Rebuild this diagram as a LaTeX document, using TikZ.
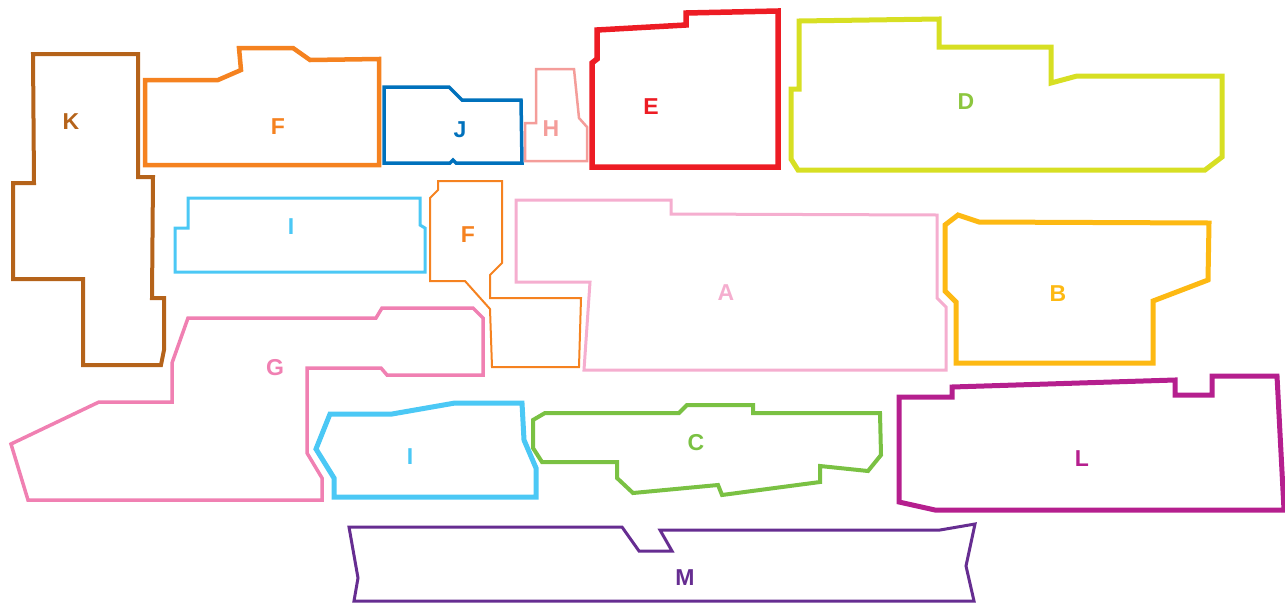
\documentclass[tikz,border=0pt]{standalone}
\usepackage{fontspec}
\setmainfont{Liberation Sans}
\usepackage{xcolor}
\definecolor{zoneK}{RGB}{181,99,26}
\definecolor{zoneF}{RGB}{245,130,32}
\definecolor{zoneJ}{RGB}{0,113,188}
\definecolor{zoneH}{RGB}{244,157,154}
\definecolor{zoneE}{RGB}{237,28,36}
\definecolor{zoneD}{RGB}{215,223,35}
\definecolor{labD}{RGB}{141,198,63}
\definecolor{zoneI}{RGB}{75,200,245}
\definecolor{zoneA}{RGB}{245,174,207}
\definecolor{zoneB}{RGB}{253,185,19}
\definecolor{zoneG}{RGB}{240,128,178}
\definecolor{zoneC}{RGB}{122,193,67}
\definecolor{zoneL}{RGB}{181,31,142}
\definecolor{zoneM}{RGB}{102,45,145}

\begin{document}
\begin{tikzpicture}[
    x=1pt, y=-1pt,
    zone/.style={line join=miter, line cap=butt},
    lbl/.style={font=\fontsize{23}{23}\selectfont\bfseries, inner sep=0pt},
]
\useasboundingbox (0,0) rectangle (1285,603);
% top row
\draw[zone, draw=zoneK, line width=4pt] (33,54) -- (138,54) -- (138,177) -- (153,177) -- (152,298) -- (164,298) -- (164,350) -- (161,365) -- (83,365) -- (83,279) -- (13,279) -- (13,183) -- (34,183) -- cycle;
\draw[zone, draw=zoneF, line width=4.5pt] (145,80) -- (218,80) -- (241,70) -- (239,48) -- (293,48) -- (310,60) -- (379,59) -- (379,165) -- (145,165) -- cycle;
\draw[zone, draw=zoneJ, line width=3.5pt] (384,87) -- (449,87) -- (462,100) -- (521,100) -- (522,163) -- (456,163) -- (453,160) -- (450,163) -- (384,163) -- cycle;
\draw[zone, draw=zoneH, line width=2.5pt] (536,69) -- (574,69) -- (579,118) -- (587,127) -- (587,161) -- (525,161) -- (525,123) -- (536,123) -- cycle;
\draw[zone, draw=zoneE, line width=5.5pt] (597,30) -- (686,25) -- (686,13) -- (778,11) -- (778,167) -- (592,167) -- (592,63) -- (597,59) -- cycle;
\draw[zone, draw=zoneD, line width=5pt] (799,21) -- (939,19) -- (939,47) -- (1051,47) -- (1051,83) -- (1077,76) -- (1222,76) -- (1222,157) -- (1205,170) -- (798,170) -- (791,159) -- (791,89) -- (799,89) -- cycle;
% middle row
\draw[zone, draw=zoneI, line width=3pt] (188,198) -- (420,198) -- (420,225) -- (425,228) -- (425,272) -- (175,272) -- (175,228) -- (188,228) -- cycle;
\draw[zone, draw=zoneF, line width=2pt] (438,181) -- (502,181) -- (502,263) -- (490,275) -- (490,298) -- (581,298) -- (579,367) -- (492,367) -- (490,309) -- (465,281) -- (430,281) -- (430,198) -- (438,190) -- cycle;
\draw[zone, draw=zoneA, line width=3pt] (516,200) -- (671,200) -- (671,214) -- (937,215) -- (937,298) -- (946,307) -- (946,370) -- (584,370) -- (590,282) -- (516,282) -- cycle;
\draw[zone, draw=zoneB, line width=5pt] (945,225) -- (958,215) -- (979,222) -- (1209,223) -- (1208,280) -- (1153,301) -- (1153,363) -- (956,363) -- (956,302) -- (945,291) -- cycle;
% bottom rows
\draw[zone, draw=zoneG, line width=3.5pt] (188,318) -- (376,318) -- (382,308) -- (473,308) -- (483,318) -- (483,375) -- (387,375) -- (381,368) -- (307,368) -- (307,453) -- (322,478) -- (322,500) -- (28,500) -- (11,444) -- (99,402) -- (172,402) -- (172,363) -- cycle;
\draw[zone, draw=zoneI, line width=5pt] (330,414) -- (392,414) -- (455,403) -- (522,403) -- (524,440) -- (536,468) -- (536,497) -- (334,497) -- (334,478) -- (316,449) -- cycle;
\draw[zone, draw=zoneC, line width=4pt] (545,413) -- (679,413) -- (687,405) -- (753,405) -- (753,413) -- (880,413) -- (881,455) -- (868,471) -- (820,466) -- (820,482) -- (722,495) -- (718,485) -- (633,493) -- (617,478) -- (617,462) -- (542,462) -- (533,448) -- (533,420) -- cycle;
\draw[zone, draw=zoneL, line width=5pt] (899,397) -- (952,397) -- (952,387) -- (1175,380) -- (1175,395) -- (1212,395) -- (1212,376) -- (1277,376) -- (1284,510) -- (935,510) -- (899,502) -- cycle;
\draw[zone, draw=zoneM, line width=3pt] (349,527) -- (622,527) -- (639,551) -- (672,551) -- (660,530) -- (940,530) -- (975,524) -- (966,566) -- (974,601) -- (354,601) -- (358,578) -- cycle;
% labels
\node[lbl, text=zoneK] (labK) at (71,122) {K};
\node[lbl, text=zoneF] (labF1) at (278,127) {F};
\node[lbl, text=zoneJ] (labJ) at (460,130) {J};
\node[lbl, text=zoneH] (labH) at (551,129) {H};
\node[lbl, text=zoneE] (labE) at (651,107) {E};
\node[lbl, text=labD] (labD) at (966,102) {D};
\node[lbl, text=zoneI] (labI1) at (291,227) {I};
\node[lbl, text=zoneF] (labF2) at (468,235) {F};
\node[lbl, text=zoneA] (labA) at (726,293) {A};
\node[lbl, text=zoneB] (labB) at (1058,294) {B};
\node[lbl, text=zoneG] (labG) at (275,368) {G};
\node[lbl, text=zoneI] (labI2) at (410,457) {I};
\node[lbl, text=zoneC] (labC) at (696,443) {C};
\node[lbl, text=zoneL] (labL) at (1082,459) {L};
\node[lbl, text=zoneM] (labM) at (685,578) {M};
\end{tikzpicture}
\end{document}
